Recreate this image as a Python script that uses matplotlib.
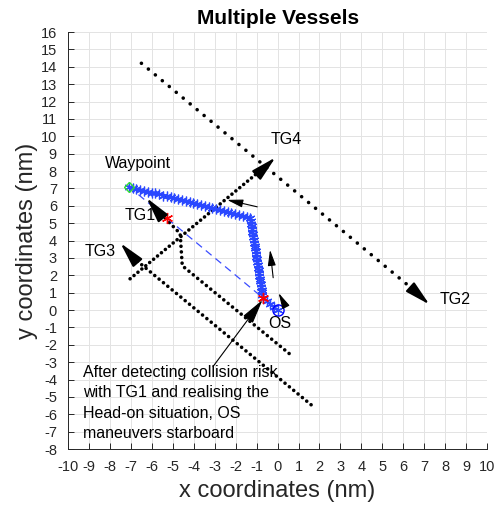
import matplotlib
matplotlib.use('Agg')
import matplotlib.pyplot as plt

plt.rcParams['font.family'] = ['Liberation Sans', 'DejaVu Sans']
plt.rcParams['axes.unicode_minus'] = False

# own ship track (nm)
os_x = [0.0, -0.17, -0.35, -0.52, -0.70,
        -0.72, -0.74, -0.76, -0.78, -0.80, -0.83, -0.85, -0.87, -0.89, -0.91,
        -0.93, -0.95, -0.97, -0.99, -1.01, -1.03, -1.05, -1.07, -1.09, -1.11,
        -1.13, -1.16, -1.18, -1.20, -1.22, -1.24, -1.26, -1.28, -1.30,
        -1.48, -1.66, -1.84, -2.03, -2.21, -2.39, -2.57, -2.75, -2.93, -3.11,
        -3.29, -3.48, -3.66, -3.84, -4.02, -4.20, -4.38, -4.56, -4.74, -4.93,
        -5.11, -5.29, -5.47, -5.65, -5.83, -6.01, -6.19, -6.38, -6.56, -6.74,
        -6.92, -7.10]
os_y = [0.0, 0.17, 0.35, 0.52, 0.70,
        0.86, 1.02, 1.18, 1.33, 1.49, 1.65, 1.81, 1.97, 2.13, 2.29,
        2.44, 2.60, 2.76, 2.92, 3.08, 3.24, 3.40, 3.56, 3.71, 3.87,
        4.03, 4.19, 4.35, 4.51, 4.67, 4.82, 4.98, 5.14, 5.30,
        5.36, 5.41, 5.47, 5.52, 5.58, 5.64, 5.69, 5.75, 5.81, 5.86,
        5.92, 5.97, 6.03, 6.09, 6.14, 6.20, 6.26, 6.31, 6.37, 6.42,
        6.48, 6.54, 6.59, 6.65, 6.71, 6.76, 6.82, 6.87, 6.93, 6.99,
        7.04, 7.10]

waypoint = (-7.1, 7.1)
os_start = (0.0, 0.0)
detect_os = (-0.70, 0.70)
detect_tg1 = (-5.3, 5.3)

# target tracks (turning points)
tg1_x = [0.55, -4.55, -4.65, -5.95]
tg1_y = [-2.50, 2.55, 4.40, 6.00]
tg2_x = [-6.5, 6.6]
tg2_y = [14.2, 1.05]
tg3_x = [1.6, -6.95]
tg3_y = [-5.45, 3.07]
tg4_x = [-7.04, -0.45]
tg4_y = [1.80, 8.40]

# arrow heads (tail, tip)
heads = [((-5.85, 5.85), (-6.25, 6.45)),   # TG1
         ((6.4, 1.25), (7.25, 0.32)),      # TG2
         ((-6.85, 2.95), (-7.5, 3.85)),    # TG3
         ((-0.75, 8.05), (-0.1, 8.78))]    # TG4
small_arrows = [((-0.97, 5.94), (-2.41, 6.34)),
                ((-0.21, 1.86), (-0.36, 3.47)),
                ((0.33, 0.33), (0.05, 0.98))]

labels = ['Waypoint', 'TG1', 'TG2', 'TG3', 'TG4', 'OS']
label_x = [-8.25, -7.3, 7.75, -9.2, -0.35, -0.45]
label_y = [8.45, 5.45, 0.62, 3.35, 9.82, -0.75]

note = ('After detecting collision risk\nwith TG1 and realising the\n'
        'Head-on situation, OS\nmaneuvers starboard')

fig = plt.figure(figsize=(4.97, 5.08), dpi=100)
ax = fig.add_axes([0.137, 0.116, 0.843, 0.821])

dot = dict(color='k', lw=2.6, dash_capstyle='round')
ax.plot(tg1_x, tg1_y, ls=(0, (0.01, 1.55)), **dot)
ax.plot(tg2_x, tg2_y, ls=(0, (0.01, 2.5)), **dot)
ax.plot(tg3_x, tg3_y, ls=(0, (0.01, 1.55)), **dot)
ax.plot(tg4_x, tg4_y, ls=(0, (0.01, 1.4)), **dot)

ax.plot([waypoint[0], detect_os[0]], [waypoint[1], detect_os[1]],
        ls=(0, (6, 4)), color='#3a4cff', lw=0.9)

ax.plot(os_x, os_y, color='b', lw=1.6, marker=(6, 2, 0), ms=7,
        mec='#2a48ff', mew=0.9)
ax.plot(*os_start, marker='o', ms=8, mfc='none', mec='b', mew=1.0)
ax.plot(*waypoint, marker='D', ms=5, mfc='none', mec='#33dd33', mew=1.0)
ax.plot([detect_os[0], detect_tg1[0]], [detect_os[1], detect_tg1[1]],
        ls='none', marker=(6, 2, 0), ms=8, mec='r', mew=1.0)

for tail, tip in heads:
    ax.annotate('', xy=tip, xytext=tail,
                arrowprops=dict(arrowstyle='-|>,head_length=0.9,head_width=0.22',
                                mutation_scale=17, fc='k', ec='k', lw=1.5,
                                shrinkA=0, shrinkB=0))
for tail, tip in small_arrows:
    ax.annotate('', xy=tip, xytext=tail,
                arrowprops=dict(arrowstyle='-|>,head_length=0.8,head_width=0.2',
                                mutation_scale=12, fc='k', ec='k', lw=0.8,
                                shrinkA=0, shrinkB=0))

ax.annotate('', xy=(-0.72, 0.58), xytext=(-3.08, -3.25),
            arrowprops=dict(arrowstyle='-|>,head_length=0.9,head_width=0.22',
                            mutation_scale=17, fc='k', ec='k', lw=0.8,
                            shrinkA=0, shrinkB=0))

for t, x, y in zip(labels, label_x, label_y):
    ax.text(x, y, t, fontsize=11.5, ha='left', va='center', color='k')
ax.text(-9.28, -3.15, note, fontsize=11.5, ha='left', va='top',
        linespacing=1.45, color='k')

ax.set_xlim(-10, 10)
ax.set_ylim(-8, 16)
ax.set_xticks(range(-10, 11))
ax.set_yticks(range(-8, 17))
ax.grid(True, color='#e3e3e3', lw=0.7)
ax.set_axisbelow(True)
for s in ['top', 'right']:
    ax.spines[s].set_visible(False)
for s in ['left', 'bottom']:
    ax.spines[s].set_color('#262626')
    ax.spines[s].set_linewidth(0.7)
ax.tick_params(direction='in', length=4, width=0.7, color='#262626',
               labelcolor='#262626', labelsize=10.5, pad=8)

ax.set_xlabel('x coordinates (nm)', fontsize=17, color='#262626', labelpad=4)
ax.set_ylabel('y coordinates (nm)', fontsize=17, color='#262626', labelpad=2)
ax.set_title('Multiple Vessels', fontsize=15, fontweight='bold', pad=6)

fig.savefig('out.png', dpi=100)
